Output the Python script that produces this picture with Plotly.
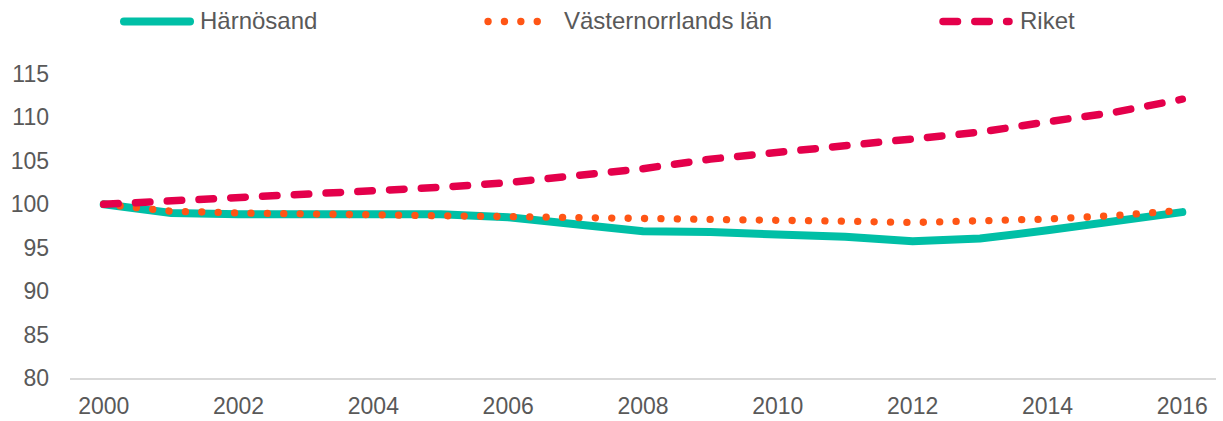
import plotly.graph_objects as go

years = [str(y) for y in range(2000, 2017)]
harnosand = [100, 99.0, 98.85, 98.9, 98.95, 98.85, 98.5, 97.8, 96.9, 96.8, 96.55, 96.25, 95.75, 96.05, 97.0, 97.95, 99.1]
vasternorrland = [100, 99.2, 99.0, 98.9, 98.9, 98.75, 98.75, 98.6, 98.5, 98.4, 98.2, 98.05, 97.9, 98.05, 98.3, 98.7, 99.3]
riket = [100, 100.4, 100.7, 101.0, 101.4, 101.95, 102.5, 103.25, 104.1, 105.2, 106.0, 106.7, 107.4, 108.3, 109.5, 110.6, 112.1]
series_names = ["Härnösand", "Västernorrlands län", "Riket"]
y_ticks = [80, 85, 90, 95, 100, 105, 110, 115]
x_ticks = [str(y) for y in range(2000, 2017, 2)]

colors = ["#00BFA6", "#FF5515", "#E4004B"]
dashes = ["solid", "0.1px,16.3px", "14.5px,17.3px"]
widths = [8, 7.3, 7.5]
text_color = "#595959"
font_family = "Arial, Liberation Sans, sans-serif"

W, H = 1223, 421
L, R, T, B = 70, 7, 74, 43
pw, ph = W - L - R, H - T - B

fig = go.Figure()
for name, vals, c, d, w in zip(series_names, [harnosand, vasternorrland, riket], colors, dashes, widths):
    fig.add_trace(go.Scatter(x=years, y=vals, mode="lines", name=name,
                             line=dict(color=c, width=w, dash=d), showlegend=False))

# custom legend (symbol spans in pixel space converted to paper coords)
legend_items = [(124, 190, 198), (488, 553, 562), (943, 1009, 1018)]
leg_y_sym, leg_y_txt = 21.5, 20.5
def px(xp):
    return (xp - L) / pw
def py(yp):
    return (H - B - yp) / ph
for (x0, x1, xt), name, c, d, w in zip(legend_items, series_names, colors, dashes, widths):
    fig.add_shape(type="line", xref="paper", yref="paper", x0=px(x0), x1=px(x1),
                  y0=py(leg_y_sym), y1=py(leg_y_sym), line=dict(color=c, width=w, dash=d))
    fig.add_annotation(text=name, xref="paper", yref="paper", x=px(xt), y=py(leg_y_txt),
                       xanchor="left", yanchor="middle", showarrow=False,
                       font=dict(size=24, color=text_color, family=font_family))

fig.update_layout(
    width=W, height=H, margin=dict(l=L, r=R, t=T, b=B, autoexpand=False),
    paper_bgcolor="white", plot_bgcolor="white",
    font=dict(family=font_family, size=23, color=text_color),
    xaxis=dict(type="category", range=[-0.5, 16.5], tickmode="array", tickvals=x_ticks,
               showgrid=False, showline=True, linecolor="#D9D9D9", linewidth=2,
               ticks="", ticklabelstandoff=6, zeroline=False, automargin=False),
    yaxis=dict(range=[80, 115], tickmode="array", tickvals=y_ticks, showgrid=False,
               showline=False, zeroline=False, ticks="", ticklabelstandoff=20, automargin=False),
)

post = """
document.body.style.margin = '0';
document.body.style.padding = '0';
var gd = document.getElementById('{plot_id}');
function fixCaps(){
  gd.querySelectorAll('path.js-line, .shapelayer path').forEach(function(p){
    p.style.strokeLinecap = 'round';
  });
}
fixCaps();
if (gd.on) { gd.on('plotly_afterplot', fixCaps); }
"""
fig.write_html("out.html", post_script=post, config={"displayModeBar": False})
